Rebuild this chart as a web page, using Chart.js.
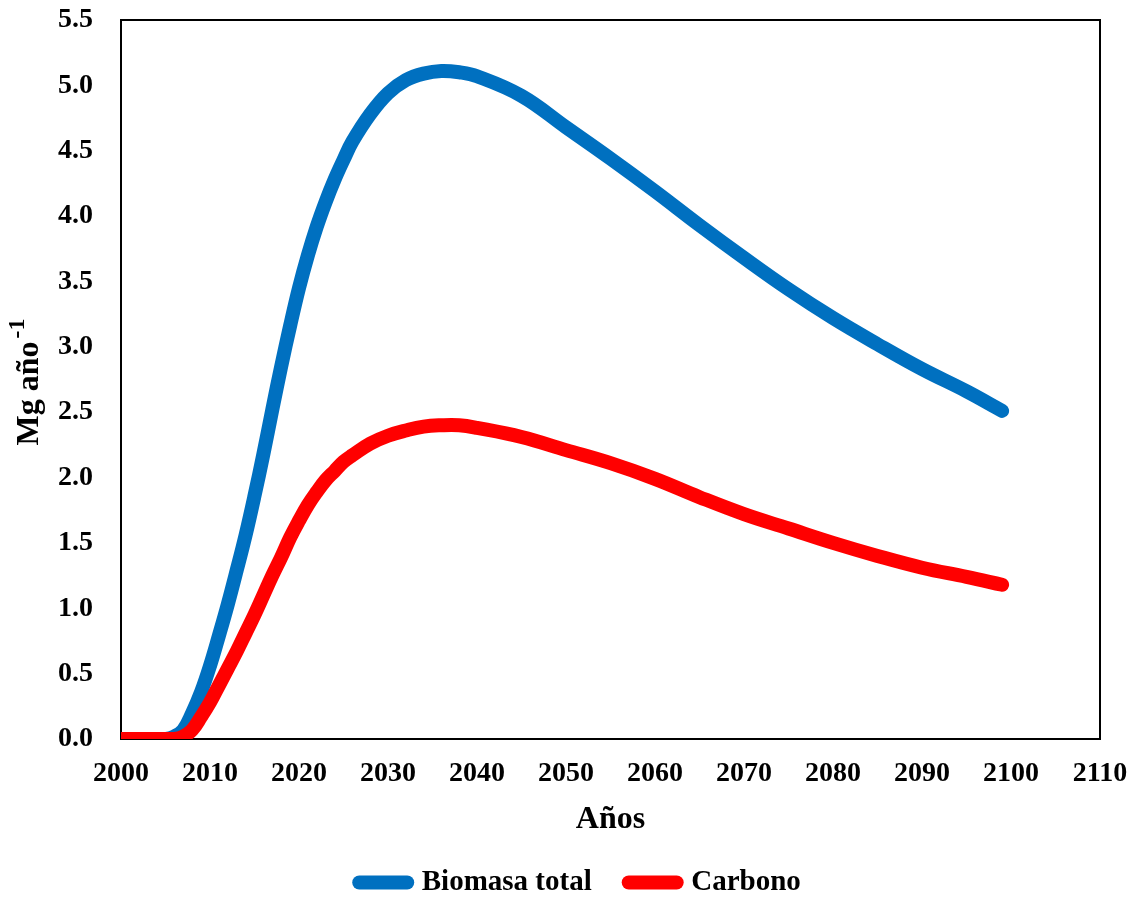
<!DOCTYPE html>
<html lang="es">
<head>
  <meta charset="UTF-8" />
  <title>Biomasa total y carbono</title>
  <script src="https://cdn.jsdelivr.net/npm/chart.js"></script>
  <style>
    * {
      margin: 0;
      padding: 0;
      box-sizing: border-box;
    }

    body {
      background: #fff;
    }
  </style>
</head>
<body>
  <canvas id="grafico" width="1140" height="901"></canvas>

  <script>
    // años
    const years = [2000, 2005, 2006, 2007, 2008, 2009, 2010, 2011, 2012, 2013,
      2014, 2015, 2016, 2017, 2018, 2019, 2020, 2021, 2022, 2023,
      2024, 2025, 2026, 2028, 2030, 2032, 2034, 2036, 2038, 2040,
      2045, 2050, 2055, 2060, 2065, 2070, 2075, 2080, 2085, 2090,
      2095, 2099];

    const biomasaTotal = [0, 0, 0.02, 0.07, 0.2, 0.36, 0.56, 0.79, 1.03, 1.29,
      1.56, 1.86, 2.18, 2.52, 2.85, 3.16, 3.45, 3.7, 3.92, 4.11,
      4.28, 4.43, 4.57, 4.78, 4.94, 5.04, 5.09, 5.11, 5.1, 5.07,
      4.92, 4.68, 4.44, 4.19, 3.93, 3.68, 3.44, 3.22, 3.02, 2.83,
      2.66, 2.51];

    const carbono = [0, 0, 0, 0.02, 0.07, 0.17, 0.28, 0.41, 0.54, 0.67,
      0.81, 0.95, 1.1, 1.25, 1.39, 1.54, 1.67, 1.79, 1.89, 1.98,
      2.05, 2.12, 2.17, 2.26, 2.32, 2.36, 2.39, 2.4, 2.4, 2.38,
      2.31, 2.21, 2.11, 1.99, 1.85, 1.72, 1.61, 1.5, 1.4, 1.31,
      1.24, 1.18];

    const seriesNames = ["Biomasa total", "Carbono"];
    const xRange = [2000, 2110];
    const yRange = [0, 5.5];

    const serif = "'Liberation Serif', 'Times New Roman', serif";

    const toPoints = (vals) => vals.map((v, i) => ({ x: years[i], y: v }));

    // marco del área, título del eje Y con superíndice y ajuste de la leyenda
    const framePlugin = {
      id: "framePlugin",
      afterLayout(chart) {
        chart.legend.left += 30;
        chart.legend.right += 30;
      },
      beforeDatasetsDraw(chart) {
        const { ctx, chartArea: a } = chart;
        ctx.save();
        ctx.strokeStyle = "#000";
        ctx.lineWidth = 2;
        ctx.strokeRect(a.left, a.top, a.right - a.left, a.bottom - a.top);
        ctx.restore();
      },
      afterDraw(chart) {
        const { ctx, chartArea: a } = chart;
        ctx.save();
        ctx.translate(28, (a.top + a.bottom) / 2 + 2);
        ctx.rotate(-Math.PI / 2);
        ctx.fillStyle = "#000";
        ctx.textAlign = "left";
        ctx.textBaseline = "middle";
        ctx.font = "bold 32px " + serif;
        const main = "Mg año";
        const w1 = ctx.measureText(main).width;
        ctx.font = "bold 24px " + serif;
        const sup = "-1";
        const w2 = ctx.measureText(sup).width;
        const start = -(w1 + w2 + 4) / 2;
        ctx.font = "bold 32px " + serif;
        ctx.fillText(main, start, 2);
        ctx.font = "bold 24px " + serif;
        ctx.fillText(sup, start + w1 + 3, -10);
        ctx.restore();
      }
    };

    const ctx = document.getElementById("grafico").getContext("2d");

    new Chart(ctx, {
      type: "line",
      data: {
        datasets: [
          {
            label: seriesNames[0],
            data: toPoints(biomasaTotal),
            borderColor: "#0070C0",
            backgroundColor: "#0070C0",
            borderWidth: 14,
            borderCapStyle: "round",
            pointRadius: 0,
            tension: 0.4,
            order: 2
          },
          {
            label: seriesNames[1],
            data: toPoints(carbono),
            borderColor: "#FF0000",
            backgroundColor: "#FF0000",
            borderWidth: 14,
            borderCapStyle: "round",
            pointRadius: 0,
            tension: 0.4,
            order: 1
          }
        ]
      },
      options: {
        responsive: false,
        animation: false,
        layout: {
          padding: { left: 0, right: 40, top: 20, bottom: -6 }
        },
        scales: {
          x: {
            type: "linear",
            min: xRange[0],
            max: xRange[1],
            grid: { display: false, drawTicks: false },
            border: { display: false },
            ticks: {
              stepSize: 10,
              color: "#000",
              padding: 18,
              maxRotation: 0,
              font: { family: serif, size: 28, weight: "bold" },
              callback: (v) => String(v)
            },
            title: {
              display: true,
              text: "Años",
              color: "#000",
              padding: { top: 0, bottom: -8 },
              font: { family: serif, size: 32, weight: "bold" }
            },
            afterFit: (scale) => {
              scale.height = 92;
              scale.paddingLeft = 0;
              scale.paddingRight = 0;
            }
          },
          y: {
            min: yRange[0],
            max: yRange[1],
            grid: { display: false, drawTicks: false },
            border: { display: false },
            ticks: {
              stepSize: 0.5,
              color: "#000",
              padding: 28,
              font: { family: serif, size: 28, weight: "bold" },
              callback: (v) => v.toFixed(1)
            },
            afterFit: (scale) => {
              scale.width = 121;
              scale.paddingTop = 0;
              scale.paddingBottom = 0;
            }
          }
        },
        plugins: {
          legend: {
            position: "bottom",
            labels: {
              usePointStyle: true,
              pointStyle: "line",
              pointStyleWidth: 48,
              padding: 37,
              color: "#000",
              font: { family: serif, size: 29, weight: "bold" },
              sort: (a, b) => a.datasetIndex - b.datasetIndex,
              generateLabels: (chart) => {
                const items = Chart.defaults.plugins.legend.labels.generateLabels(chart);
                items.forEach((it) => {
                  it.lineCap = "round";
                  it.lineWidth = 14;
                  it.strokeStyle = it.fillStyle;
                });
                return items;
              }
            }
          },
          tooltip: { enabled: false }
        }
      },
      plugins: [framePlugin]
    });
  </script>
</body>
</html>
